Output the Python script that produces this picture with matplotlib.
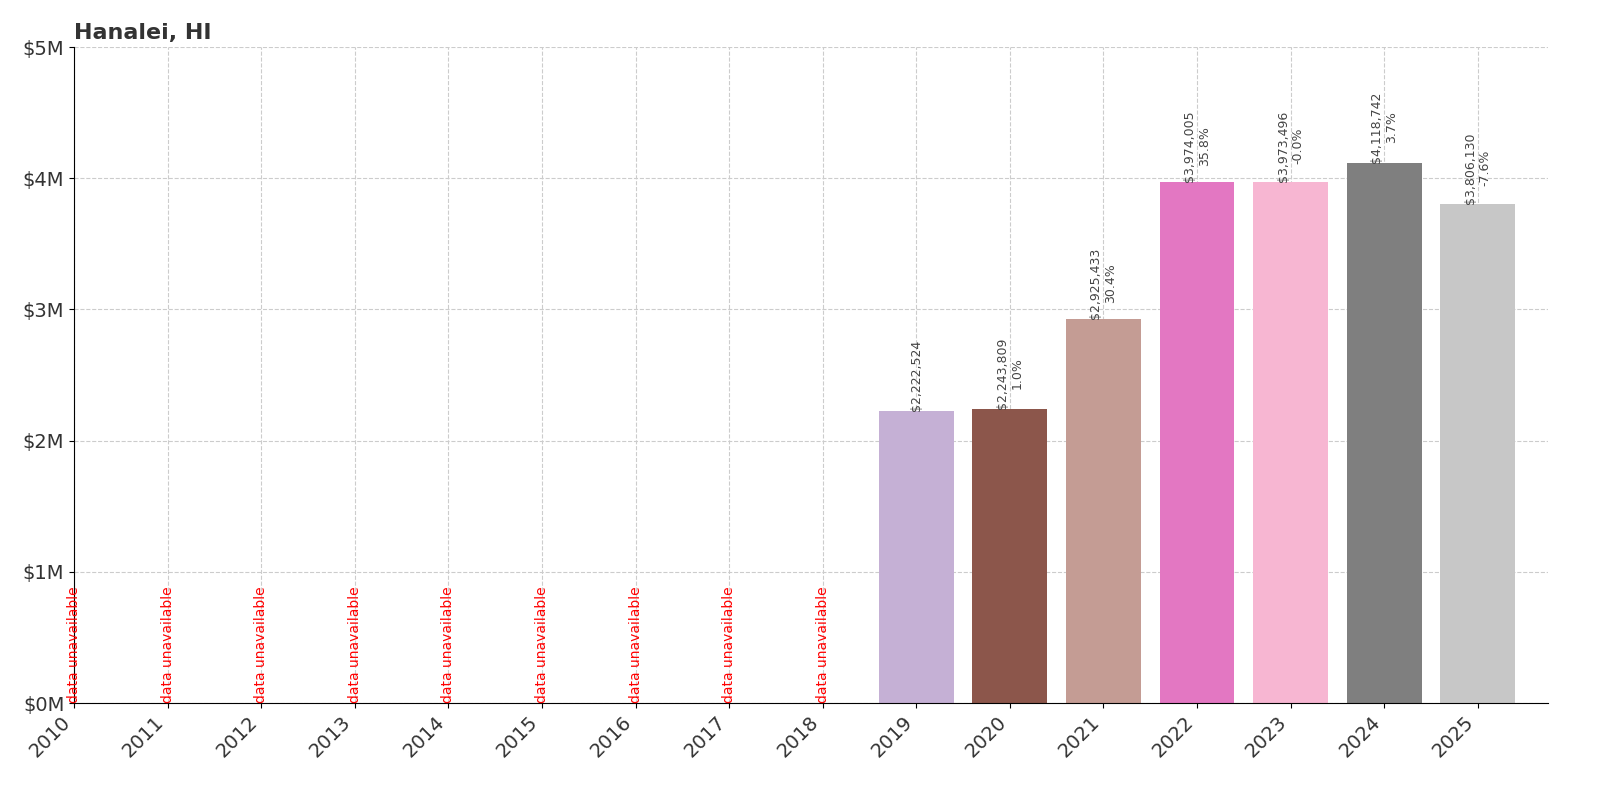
import matplotlib
matplotlib.use("Agg")
import matplotlib.pyplot as plt

years = list(range(2010, 2026))
values = [None]*9 + [2222524, 2243809, 2925433, 3974005, 3973496, 4118742, 3806130]
changes = [None]*10 + ["1.0%", "30.4%", "35.8%", "-0.0%", "3.7%", "-7.6%"]
title = "Hanalei, HI"

fig = plt.figure(figsize=(16, 8), dpi=100)
ax = fig.add_axes([74/1600, 1-703/800, (1548-74)/1600, (703-47)/800])
cmap = plt.get_cmap("tab20")
for i, (y, v) in enumerate(zip(years, values)):
    if v is None:
        ax.text(y, 0, "data unavailable", rotation=90, color="red", fontsize=10,
                ha="center", va="bottom")
        continue
    ax.bar(y, v, width=0.8, color=cmap(i % 20), zorder=2)
    lab = f"${v:,.0f}"
    if changes[i]:
        lab += "\n" + changes[i]
    ax.text(y, v, lab, rotation=90, fontsize=9, color="#444444", ha="center", va="bottom")

ax.set_xlim(2010, 2025.75)
ax.set_ylim(0, 5e6)
ax.set_xticks(years)
ax.set_xticklabels([str(y) for y in years], rotation=45, ha="right", fontsize=14, color="#333333")
ax.set_yticks([i*1e6 for i in range(6)])
ax.set_yticklabels([f"${i}M" for i in range(6)], fontsize=14, color="#333333")
ax.grid(True, linestyle="--", color="#cccccc", zorder=0)
ax.set_axisbelow(True)
for s in ["top", "right"]:
    ax.spines[s].set_visible(False)
ax.set_title(title, loc="left", fontsize=16, fontweight="bold", color="#333333")
fig.savefig("out.png")
